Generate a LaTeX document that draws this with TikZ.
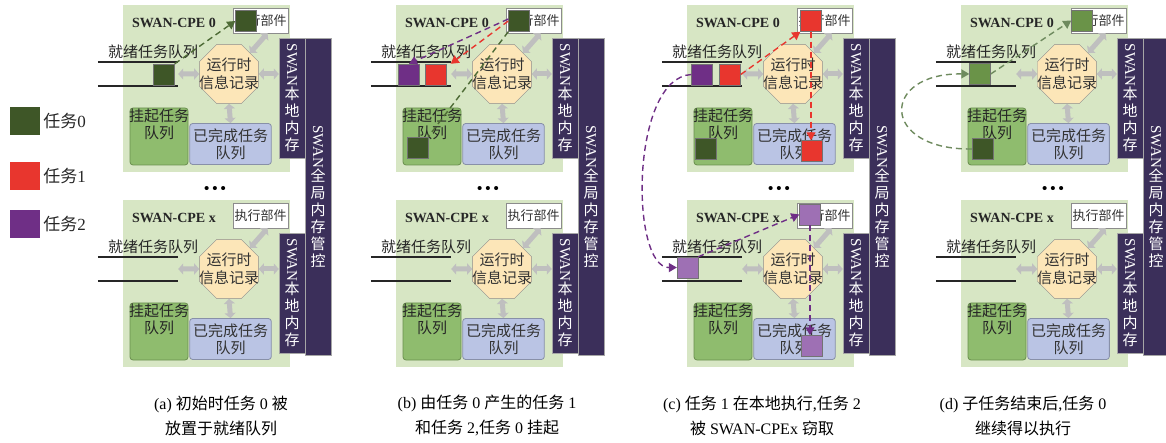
\documentclass[tikz,border=0pt]{standalone}
\usepackage{fontspec}
\setmainfont{Liberation Serif}
\newfontfamily\cjk{Noto Sans CJK SC}
\usetikzlibrary{shapes.geometric,arrows.meta,positioning}
\newcommand{\zh}[1]{{\cjk #1}}
\definecolor{cpebg}{HTML}{D7E6C4}
\definecolor{hold}{HTML}{8FBC6E}
\definecolor{holdline}{HTML}{6A8F4E}
\definecolor{done}{HTML}{BAC4E4}
\definecolor{doneline}{HTML}{8890A8}
\definecolor{info}{HTML}{FCE6B8}
\definecolor{mem}{HTML}{3B2F5A}
\definecolor{taskA}{HTML}{3E5627}
\definecolor{taskAl}{HTML}{6A9348}
\definecolor{taskB}{HTML}{E8362E}
\definecolor{taskC}{HTML}{6F2F86}
\definecolor{taskCl}{HTML}{9E70B4}
\definecolor{flowA}{HTML}{4E6B36}
\definecolor{flowD}{HTML}{6E8A5E}
\begin{document}
\begin{tikzpicture}[x=1pt,y=-1pt,
    lbl/.style={font=\cjk\fontsize{15}{17}\selectfont,text=black!85,inner sep=0pt,align=center},
    cpetitle/.style={font=\bfseries\fontsize{14}{14}\selectfont,text=black!85,inner sep=0pt},
    execbox/.style={draw=black!45,fill=white,minimum width=55pt,minimum height=25pt,inner sep=0pt,font=\cjk\fontsize{13}{13}\selectfont,text=black!80},
    queue/.style={minimum width=80pt,minimum height=24pt,inner sep=0pt},
    qline/.style={line width=1.6pt,black!85},
    infobox/.style={regular polygon,regular polygon sides=8,minimum size=64pt,inner sep=0pt,draw=black!45,fill=info,font=\cjk\fontsize{15}{18}\selectfont,text=black!80,align=center},
    holdbox/.style={rounded corners=3pt,draw=holdline,fill=hold,line width=0.8pt,minimum width=58pt,minimum height=57pt},
    donebox/.style={rounded corners=3pt,draw=doneline,fill=done,line width=0.8pt,minimum width=79pt,minimum height=41pt,font=\cjk\fontsize{15}{17}\selectfont,text=black!80,align=center},
    membar/.style={draw=black!35,fill=mem,text=white,minimum width=26pt,inner sep=0pt,font=\cjk\fontsize{15}{17}\selectfont,align=center},
    dbl/.style={line width=5pt,draw=black!25,{Triangle[width=11pt,length=5pt]}-{Triangle[width=11pt,length=5pt]}},
    task/.style={minimum size=21pt,inner sep=0pt,draw=black!55,line width=0.4pt},
    flow/.style={line width=1.4pt,dash pattern=on 6pt off 4pt,-{Triangle[width=9pt,length=8pt]}},
    legbox/.style={minimum width=30pt,minimum height=28pt,inner sep=0pt},
    leglbl/.style={font=\fontsize{17}{17}\selectfont,inner sep=0pt,text=black!85},
    capt/.style={font=\fontsize{16}{25}\selectfont,align=center,inner sep=0pt},
]
\useasboundingbox (0,0) rectangle (1166,443);
% Panel dan CPE
\foreach \pid/\ox in {a/0,b/273,c/564,d/838}{
  \begin{scope}[shift={(\ox,0)}]
    \foreach \cid/\oy in {0/0,x/195}{
      \begin{scope}[shift={(0,\oy)}]
        \fill[cpebg] (123,5) rectangle (290,172);
        \node[cpetitle] (\pid\cid-name) at (174,23) {SWAN-CPE \cid};
        \node[execbox] (\pid\cid-exec) at (260.5,20.5) {执行部件};
        % Antrian siap
        \node[queue] (\pid\cid-q) at (138,74) {};
        \draw[qline] (\pid\cid-q.north west) -- (\pid\cid-q.north east)
                     (\pid\cid-q.south west) -- (\pid\cid-q.south east);
        \node[lbl] (\pid\cid-qt) at (153,52) {就绪任务队列};
        \node[infobox] (\pid\cid-info) at (229,74)
          {\makebox[0pt]{运行时}\\\makebox[0pt]{信息记录}};
        \node[holdbox] (\pid\cid-hold) at (159,136.5) {};
        \node[lbl,below=1pt of \pid\cid-hold.north] (\pid\cid-holdt) {挂起任务\\队列};
        \node[donebox] (\pid\cid-done) at (230.5,144) {已完成任务\\队列};
        \node[membar,minimum height=120pt] (\pid\cid-mem) at (292,98)
          {\rotatebox{-90}{\rmfamily SWAN}\\本\\地\\内\\存};
        % Panah ganda
        \draw[dbl] (\pid\cid-q.east) -- (\pid\cid-info.west);
        \draw[dbl] (\pid\cid-info.east) -- (\pid\cid-info.east -| \pid\cid-mem.west);
        \draw[dbl] (\pid\cid-info.south) -- (\pid\cid-done.north);
        \draw[dbl] (\pid\cid-info.45) -- ([xshift=7pt]\pid\cid-exec.south);
      \end{scope}
    }
    \node[membar,minimum height=317pt] (\pid-glob) at (318,196.5)
      {\rotatebox{-90}{\rmfamily SWAN}\\全\\局\\内\\存\\管\\控};
    \node[inner sep=0pt,font=\bfseries\fontsize{15}{15}\selectfont] (\pid-dots) at (215,190)
      {\textbullet\hspace{3pt}\textbullet\hspace{3pt}\textbullet};
  \end{scope}
}
% (a)
\node[task,fill=taskA] (a-q0) at (164,74.5) {};
\node[task,fill=taskA] (a-e0) at (246,21) {};
\draw[flow,draw=flowA] (a-q0.north east) -- (a-e0.west);
% (b)
\begin{scope}[shift={(273,0)}]
  \node[task,fill=taskC] (b-q2) at (136,74.5) {};
  \node[task,fill=taskB] (b-q1) at (163,74.5) {};
  \node[task,fill=taskA] (b-e0) at (246,21) {};
  \node[task,fill=taskA] (b-s0) at (144.5,147.5) {};
  \draw[flow,draw=taskC] ([yshift=2pt]b-e0.west) -- (b-q2.north);
  \draw[flow,draw=taskB] (b-e0.west) -- ([xshift=4pt]b-q1.north east);
  \draw[flow,draw=flowA,-] (b-e0.south west) -- (b-s0.north east);
\end{scope}
% (c)
\begin{scope}[shift={(564,0)}]
  \node[task,fill=taskC] (c-q2) at (138,74.5) {};
  \node[task,fill=taskB] (c-q1) at (166,74.5) {};
  \node[task,fill=taskB] (c-e1) at (247,21) {};
  \node[task,fill=taskA] (c-s0) at (142,149) {};
  \node[task,fill=taskB] (c-d1) at (248,151) {};
  \node[task,fill=taskCl] (c-x2) at (123.5,267.5) {};
  \node[task,fill=taskCl] (c-xe2) at (246,214.5) {};
  \node[task,fill=taskCl] (c-xd2) at (248,346) {};
  \draw[flow,draw=taskB] (c-q1.east) -- (c-e1.south west);
  \draw[flow,draw=taskB] (c-e1.south) -- (c-e1.south |- c-d1.north);
  \draw[flow,draw=taskC] (c-q2.west) .. controls (66,78) and (66,268) .. (c-x2.west);
  \draw[flow,draw=taskC] (c-x2.north east) -- (c-xe2.west);
  \draw[flow,draw=taskC] (c-xe2.south) -- (c-xe2.south |- c-xd2.north);
\end{scope}
% (d)
\begin{scope}[shift={(838,0)}]
  \node[task,fill=taskAl] (d-e0) at (244,20.5) {};
  \node[task,fill=taskAl] (d-q0) at (142,74) {};
  \node[task,fill=taskA] (d-s0) at (144.5,149) {};
  \draw[flow,draw=flowD] (d-s0.west) .. controls (42,150) and (42,73) .. (d-q0.west);
  \draw[flow,draw=flowD] (d-q0.east) -- (d-e0.west);
\end{scope}
% Legenda
\node[legbox,fill=taskA] (leg0) at (25,121) {};
\node[legbox,fill=taskB] (leg1) at (25,176.5) {};
\node[legbox,fill=taskC] (leg2) at (25,224) {};
\node[leglbl,right=3pt of leg0] (leg0t) {\zh{任务}0};
\node[leglbl,right=3pt of leg1] (leg1t) {\zh{任务}1};
\node[leglbl,right=3pt of leg2] (leg2t) {\zh{任务}2};
% Keterangan
\node[capt] (cap-a) at (221,415.5) {(a) \zh{初始时任务} 0 \zh{被}\\\zh{放置于就绪队列}};
\node[capt] (cap-b) at (487,415.5) {(b) \zh{由任务} 0 \zh{产生的任务} 1\\\zh{和任务} 2,\zh{任务} 0 \zh{挂起}};
\node[capt] (cap-c) at (762,415.5) {(c) \zh{任务} 1 \zh{在本地执行},\zh{任务} 2\\\zh{被} SWAN-CPEx \zh{窃取}};
\node[capt] (cap-d) at (1023,415.5) {(d) \zh{子任务结束后},\zh{任务} 0\\\zh{继续得以执行}};
\end{tikzpicture}
\end{document}
